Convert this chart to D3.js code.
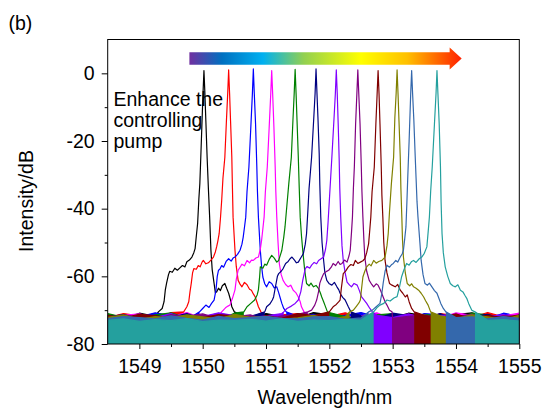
<!doctype html>
<html>
<head>
<meta charset="utf-8">
<script src="https://cdnjs.cloudflare.com/ajax/libs/d3/7.8.5/d3.min.js"></script>
<style>
  body { margin: 0; background: #fff; }
  svg { display: block; }
  text { font-family: Arial, "Liberation Sans", sans-serif; fill: #000; }
  .tick text { font-size: 19.5px; }
  .tick line { stroke: #000; stroke-width: 1; }
  path.trace { fill: none; stroke-width: 1.2; stroke-linejoin: round; }
</style>
</head>
<body>
<div id="chart"></div>
<script>
// ---- data ----
var xTicks = [1549, 1550, 1551, 1552, 1553, 1554, 1555];
var xMinor = [1549.5, 1550.5, 1551.5, 1552.5, 1553.5, 1554.5];
var yTicks = [0, -20, -40, -60, -80];
var yMinor = [-10, -30, -50, -70];

// traces in drawing order (weakest -> strongest controlling pump)
var traceColors = ["#000000", "#ff0000", "#0000ff", "#ff00ff", "#008000", "#000080",
                   "#8000ff", "#800080", "#800000", "#808000", "#3468ac", "#24a09e"];

// noise floor: wavelength grid and top of the floor for each trace (dB)
var floorWl = [1548.5, 1548.75, 1549, 1549.25, 1549.5, 1549.75, 1550, 1550.25, 1550.5,
               1550.75, 1551, 1551.25, 1551.5, 1551.75, 1552, 1552.25, 1552.5, 1552.75,
               1553, 1553.25, 1553.5, 1553.75, 1554, 1554.25, 1554.5, 1554.75, 1555];
var floorBlack   = [-71.6,-72.4,-70.9,-71.8,-72.6,-71.2,-70.8,-72.1,-71.5,-72.8,-71.0,-71.9,-72.3,-70.7,-71.4,-72.5,-71.1,-71.8,-72.2,-70.9,-71.6,-72.7,-71.3,-70.8,-72.0,-71.5,-72.4];
var floorRed     = [-72.2,-71.0,-71.7,-72.8,-70.7,-71.9,-72.4,-71.3,-72.0,-70.9,-72.5,-71.4,-71.0,-72.3,-71.8,-70.8,-72.1,-72.6,-71.2,-71.7,-72.9,-71.0,-71.6,-72.2,-70.7,-72.0,-71.3];
var floorBlue    = [-71.3,-72.7,-72.0,-70.8,-71.6,-72.9,-71.4,-70.9,-72.3,-71.7,-71.1,-72.6,-71.8,-71.2,-72.4,-71.5,-70.7,-72.0,-71.9,-72.7,-71.0,-71.4,-72.1,-71.7,-72.5,-70.9,-71.8];
var floorMagenta = [-72.6,-71.5,-71.1,-72.2,-71.9,-70.7,-72.5,-71.8,-71.2,-72.0,-72.7,-70.9,-71.6,-72.4,-71.0,-72.1,-71.7,-70.8,-72.6,-71.3,-71.9,-72.3,-70.8,-71.5,-72.1,-71.7,-70.9];
var floorGreen   = [-71.0,-72.1,-72.6,-71.4,-70.8,-72.3,-71.7,-72.9,-70.9,-71.5,-72.2,-71.8,-72.7,-71.1,-70.7,-71.9,-72.5,-71.4,-71.0,-72.4,-71.2,-71.8,-72.6,-70.9,-71.4,-72.3,-71.6];
var floorNavy    = [-72.0,-71.3,-72.5,-71.7,-72.1,-71.0,-72.6,-71.4,-72.8,-71.9,-70.8,-72.2,-71.5,-72.9,-72.0,-71.2,-71.7,-72.5,-70.9,-71.6,-72.3,-71.0,-72.8,-71.9,-71.2,-72.6,-72.1];
var floorViolet  = [-71.8,-72.9,-71.4,-72.2,-71.0,-72.7,-71.9,-70.8,-71.6,-72.3,-71.7,-71.0,-72.1,-71.8,-72.6,-71.3,-72.9,-71.5,-72.2,-71.1,-72.7,-71.6,-71.2,-72.4,-71.9,-71.3,-72.7];
var floorPurple  = [-72.4,-71.6,-72.0,-72.9,-71.3,-71.8,-71.1,-72.5,-72.0,-71.4,-72.8,-71.7,-71.2,-72.0,-71.5,-72.7,-71.9,-71.1,-72.4,-71.8,-71.4,-72.6,-71.9,-71.2,-72.8,-71.6,-71.9];
var floorMaroon  = [-71.5,-72.3,-71.2,-71.6,-72.8,-71.9,-72.2,-71.3,-71.7,-72.9,-71.6,-72.4,-71.0,-71.6,-72.2,-71.4,-72.1,-72.8,-71.5,-72.0,-71.5,-72.3,-71.1,-72.7,-71.5,-72.2,-71.4];
var floorOlive   = [-72.1,-71.4,-72.7,-71.9,-72.3,-71.4,-72.0,-72.6,-71.2,-72.1,-71.9,-72.7,-72.3,-71.5,-72.8,-71.9,-71.3,-72.2,-72.7,-71.4,-72.0,-71.7,-72.5,-71.4,-72.0,-72.8,-71.5];
var floorSteel   = [-72.5,-71.9,-72.2,-72.6,-71.7,-72.4,-72.9,-71.8,-72.5,-72.2,-71.8,-72.4,-72.6,-72.0,-71.9,-72.7,-72.3,-71.9,-72.4,-72.6,-71.9,-72.5,-72.2,-72.0,-72.6,-71.9,-72.4];
var floorTeal    = [-73.0,-72.6,-73.3,-72.8,-73.1,-72.5,-73.4,-72.9,-73.0,-72.7,-73.2,-72.6,-73.3,-72.9,-73.1,-72.7,-73.0,-72.8,-73.4,-72.6,-73.1,-72.9,-73.2,-72.7,-73.0,-72.8,-73.2];

// lasing line + sidebands above the floor, [wavelength nm, dB]
var peakBlack = [[1549.30,-70.5],[1549.36,-69.5],[1549.39,-67.5],[1549.41,-64],[1549.43,-62],[1549.46,-59.5],[1549.48,-58.5],[1549.52,-58.8],[1549.56,-57.6],[1549.60,-58.2],[1549.64,-57.5],[1549.68,-56.8],[1549.72,-57.2],[1549.75,-55.7],[1549.79,-55.2],[1549.83,-54.3],[1549.86,-53.0],[1549.88,-51.8],[1549.90,-48],[1549.92,-44.4],[1549.94,-37],[1549.955,-32.6],[1549.97,-24.8],[1549.99,-14],[1550.005,-6],[1550.02,0.8],[1550.035,-6],[1550.05,-14],[1550.07,-24.8],[1550.09,-34],[1550.11,-42.5],[1550.13,-52.3],[1550.15,-58],[1550.18,-62.1],[1550.20,-64.8],[1550.22,-64.6],[1550.25,-63.5],[1550.28,-64.2],[1550.31,-62.8],[1550.35,-62.1],[1550.38,-63.6],[1550.41,-65],[1550.44,-67],[1550.46,-69],[1550.50,-70.5]];
var peakRed = [[1549.70,-70.5],[1549.75,-69],[1549.78,-67.5],[1549.80,-64.5],[1549.82,-62],[1549.84,-59],[1549.86,-57.7],[1549.90,-57.9],[1549.93,-56.8],[1549.96,-57.2],[1549.99,-55.8],[1550.01,-55.3],[1550.05,-56.3],[1550.09,-56],[1550.13,-55.2],[1550.17,-54.3],[1550.20,-52.8],[1550.22,-51.3],[1550.24,-49.5],[1550.26,-47.4],[1550.28,-43],[1550.30,-37.6],[1550.32,-31],[1550.35,-24.8],[1550.375,-14],[1550.395,-6],[1550.41,1.0],[1550.425,-6],[1550.44,-14],[1550.46,-24.8],[1550.47,-34],[1550.48,-42.5],[1550.51,-52.3],[1550.53,-57],[1550.56,-61.2],[1550.59,-62.3],[1550.62,-63.1],[1550.66,-61.8],[1550.70,-62.5],[1550.74,-63.8],[1550.77,-64.1],[1550.80,-65.2],[1550.83,-66.1],[1550.86,-67.8],[1550.88,-69],[1550.92,-70.5]];
var peakBlue = [[1549.95,-70.5],[1550.00,-69.5],[1550.05,-68.5],[1550.10,-69.2],[1550.14,-68],[1550.18,-67],[1550.21,-64],[1550.23,-60],[1550.25,-58.2],[1550.27,-57.9],[1550.30,-56.8],[1550.33,-57.3],[1550.37,-55.6],[1550.41,-54.8],[1550.45,-55.5],[1550.48,-54.6],[1550.51,-54.3],[1550.55,-53.5],[1550.59,-52.3],[1550.62,-50.5],[1550.64,-48.4],[1550.66,-45.5],[1550.68,-42.5],[1550.70,-35],[1550.73,-27.7],[1550.76,-16],[1550.785,-6],[1550.80,1.3],[1550.815,-6],[1550.835,-15],[1550.855,-27.7],[1550.865,-35],[1550.88,-42.5],[1550.91,-52.3],[1550.93,-57],[1550.95,-60.2],[1550.98,-62.2],[1551.01,-63.1],[1551.05,-61.6],[1551.09,-62.1],[1551.13,-63.4],[1551.17,-63.1],[1551.20,-64.8],[1551.22,-66.1],[1551.25,-68],[1551.28,-69.5],[1551.32,-70.5]];
var peakMagenta = [[1550.30,-70.5],[1550.36,-69.3],[1550.40,-68.8],[1550.43,-68.5],[1550.47,-66.5],[1550.51,-64],[1550.53,-61],[1550.56,-58.2],[1550.59,-57.3],[1550.62,-56.4],[1550.66,-56.9],[1550.70,-55.3],[1550.74,-56],[1550.77,-55.2],[1550.80,-55.3],[1550.84,-54.6],[1550.88,-54.3],[1550.91,-52],[1550.93,-49.4],[1550.95,-46],[1550.97,-42.5],[1550.99,-35],[1551.02,-27.7],[1551.05,-16],[1551.075,-6],[1551.09,0.8],[1551.105,-6],[1551.125,-16],[1551.145,-27.7],[1551.155,-35],[1551.17,-42.5],[1551.19,-50],[1551.21,-56.2],[1551.24,-59.5],[1551.27,-61.2],[1551.31,-62.4],[1551.35,-63.1],[1551.39,-62.6],[1551.43,-64.1],[1551.47,-64.8],[1551.51,-66.1],[1551.54,-67.5],[1551.56,-69],[1551.60,-70.5]];
var peakGreen = [[1550.65,-70.5],[1550.70,-69],[1550.76,-68],[1550.82,-67],[1550.86,-65.5],[1550.88,-64],[1550.90,-60],[1550.91,-57.2],[1550.95,-57.6],[1550.98,-56.4],[1551.01,-56.7],[1551.05,-55],[1551.09,-53.8],[1551.13,-54.6],[1551.17,-55.8],[1551.20,-55.3],[1551.23,-53.5],[1551.25,-52.3],[1551.28,-48.5],[1551.30,-45.4],[1551.33,-39],[1551.36,-32.6],[1551.40,-24.8],[1551.425,-14],[1551.445,-6],[1551.46,1.2],[1551.475,-6],[1551.49,-14],[1551.51,-24.8],[1551.525,-34],[1551.54,-42.5],[1551.56,-48],[1551.58,-52.3],[1551.61,-58],[1551.64,-62.1],[1551.68,-62.8],[1551.71,-62],[1551.75,-63.1],[1551.79,-62.7],[1551.83,-63.6],[1551.86,-65],[1551.88,-66.1],[1551.91,-67.5],[1551.93,-68.5],[1551.97,-70.5]];
var peakNavy = [[1550.98,-70.5],[1551.01,-69],[1551.06,-68.2],[1551.10,-67],[1551.12,-66.1],[1551.15,-63],[1551.18,-60],[1551.20,-59.2],[1551.24,-58.5],[1551.27,-57.7],[1551.31,-56.2],[1551.35,-55.6],[1551.38,-54.8],[1551.41,-54.3],[1551.45,-55.2],[1551.48,-56],[1551.51,-55.8],[1551.55,-54.5],[1551.59,-53.3],[1551.62,-50.5],[1551.64,-47.4],[1551.66,-41],[1551.68,-34],[1551.72,-24.8],[1551.755,-13],[1551.775,-6],[1551.79,1.3],[1551.805,-6],[1551.82,-13],[1551.84,-23.8],[1551.85,-33],[1551.865,-42.5],[1551.885,-50],[1551.91,-55.3],[1551.93,-59],[1551.96,-61.2],[1552.00,-62.2],[1552.04,-62.6],[1552.08,-61.8],[1552.12,-63.1],[1552.15,-64],[1552.17,-65],[1552.21,-66.2],[1552.25,-67],[1552.30,-69],[1552.34,-70.5]];
var peakViolet = [[1551.28,-70.5],[1551.33,-69.5],[1551.40,-68.8],[1551.46,-68],[1551.51,-67],[1551.55,-64.5],[1551.58,-61.2],[1551.62,-57.7],[1551.65,-57.1],[1551.69,-57.6],[1551.72,-56.7],[1551.76,-55.9],[1551.80,-56.3],[1551.83,-55.3],[1551.87,-54.8],[1551.91,-54.3],[1551.94,-52],[1551.96,-49.4],[1551.98,-44],[1552.00,-37.6],[1552.04,-24.8],[1552.075,-13],[1552.095,-6],[1552.11,1.0],[1552.125,-6],[1552.14,-15],[1552.155,-25],[1552.165,-34],[1552.18,-42.5],[1552.20,-51],[1552.22,-55.3],[1552.25,-59],[1552.28,-61.7],[1552.32,-62.6],[1552.35,-63.1],[1552.39,-62.1],[1552.44,-62.6],[1552.47,-64],[1552.51,-66.1],[1552.55,-67],[1552.59,-68],[1552.64,-69.5],[1552.68,-70.5]];
var peakPurple = [[1551.66,-70.5],[1551.72,-70],[1551.77,-68.5],[1551.80,-67],[1551.83,-64.5],[1551.85,-62],[1551.88,-60.5],[1551.91,-59.2],[1551.95,-58.6],[1551.99,-58.2],[1552.03,-57.3],[1552.06,-56.2],[1552.10,-56.8],[1552.14,-55.6],[1552.17,-56.5],[1552.20,-56.2],[1552.24,-55.2],[1552.28,-55.8],[1552.31,-54],[1552.33,-52.3],[1552.35,-47],[1552.365,-42.5],[1552.38,-34],[1552.395,-27.7],[1552.415,-15],[1552.435,-6],[1552.45,1.0],[1552.465,-6],[1552.485,-15],[1552.505,-27.7],[1552.515,-35],[1552.53,-42.5],[1552.545,-49],[1552.56,-54.3],[1552.59,-58.5],[1552.63,-61.2],[1552.67,-62.4],[1552.70,-63.1],[1552.74,-62.2],[1552.77,-62.6],[1552.81,-64.2],[1552.85,-66.1],[1552.88,-67.5],[1552.91,-68.5],[1552.95,-70],[1552.99,-70.5]];
var peakMaroon = [[1552.00,-70.5],[1552.06,-69],[1552.11,-68.3],[1552.15,-67.5],[1552.17,-67],[1552.19,-63.5],[1552.22,-59.2],[1552.26,-58.4],[1552.30,-57.2],[1552.34,-56.5],[1552.38,-56.8],[1552.41,-55.3],[1552.45,-56.2],[1552.49,-55.8],[1552.53,-55.4],[1552.56,-54.8],[1552.59,-53],[1552.62,-50.4],[1552.64,-46],[1552.655,-42.5],[1552.675,-35],[1552.71,-27.7],[1552.735,-15],[1552.755,-6],[1552.77,0.8],[1552.785,-6],[1552.80,-15],[1552.82,-27.7],[1552.83,-36],[1552.845,-42.5],[1552.86,-50],[1552.88,-55.3],[1552.91,-59],[1552.95,-62.1],[1552.99,-62.6],[1553.04,-63.1],[1553.08,-62.4],[1553.12,-64.1],[1553.16,-65],[1553.20,-66.1],[1553.23,-65.5],[1553.26,-67.5],[1553.30,-69.5],[1553.34,-70.5]];
var peakOlive = [[1552.32,-70.5],[1552.38,-70],[1552.43,-68.8],[1552.47,-67.8],[1552.49,-67],[1552.51,-63.5],[1552.53,-60.2],[1552.56,-58.5],[1552.59,-57.2],[1552.63,-56.4],[1552.66,-56.9],[1552.70,-55.3],[1552.74,-56.1],[1552.78,-55.6],[1552.83,-55.3],[1552.88,-54.3],[1552.91,-51],[1552.93,-47.4],[1552.95,-41],[1552.98,-32.6],[1553.015,-24.8],[1553.035,-13],[1553.055,-6],[1553.07,1.0],[1553.085,-6],[1553.10,-14],[1553.12,-24.8],[1553.13,-34],[1553.145,-42.5],[1553.155,-49],[1553.17,-54.3],[1553.20,-59],[1553.23,-62.1],[1553.27,-62.8],[1553.30,-62.2],[1553.33,-63.1],[1553.37,-63.5],[1553.41,-64.1],[1553.45,-65],[1553.49,-66.1],[1553.52,-67.2],[1553.56,-68.5],[1553.60,-70.5]];
var peakSteel = [[1552.62,-70.5],[1552.68,-70],[1552.74,-69],[1552.80,-68],[1552.83,-65],[1552.85,-62.1],[1552.88,-58.5],[1552.91,-56.7],[1552.95,-57.3],[1552.98,-56.6],[1553.01,-56.2],[1553.05,-55.3],[1553.08,-55.8],[1553.12,-54.3],[1553.15,-53.4],[1553.17,-52.3],[1553.19,-49],[1553.21,-45.4],[1553.225,-38],[1553.24,-30],[1553.26,-20],[1553.285,-6],[1553.30,0.8],[1553.315,-6],[1553.335,-14],[1553.355,-24],[1553.37,-31],[1553.385,-38],[1553.40,-42.5],[1553.43,-50],[1553.45,-55.3],[1553.48,-59.5],[1553.51,-62.1],[1553.55,-62.6],[1553.58,-62],[1553.62,-63.1],[1553.66,-64.2],[1553.70,-65],[1553.73,-66.5],[1553.76,-68],[1553.80,-69.5],[1553.84,-70.5]];
var peakTeal = [[1552.70,-70.5],[1552.75,-69.3],[1552.80,-68.5],[1552.86,-68],[1552.91,-67],[1552.96,-67.3],[1553.02,-66.4],[1553.07,-66],[1553.11,-63],[1553.14,-60.2],[1553.18,-58],[1553.22,-56.2],[1553.26,-56.7],[1553.30,-55.6],[1553.33,-55.3],[1553.37,-55.9],[1553.42,-54.8],[1553.46,-54.3],[1553.50,-53.2],[1553.54,-51.3],[1553.56,-47],[1553.58,-42.5],[1553.60,-35],[1553.625,-27.7],[1553.66,-15],[1553.685,-6],[1553.70,0.8],[1553.715,-6],[1553.735,-15],[1553.755,-27.7],[1553.765,-38],[1553.78,-47.4],[1553.80,-53],[1553.83,-57.2],[1553.87,-60],[1553.91,-62.1],[1553.95,-62.8],[1553.99,-63.1],[1554.03,-62.5],[1554.07,-64.1],[1554.11,-64.6],[1554.14,-65.6],[1554.17,-66.5],[1554.20,-68],[1554.25,-70],[1554.30,-70.5]];

var floors = [floorBlack, floorRed, floorBlue, floorMagenta, floorGreen, floorNavy,
              floorViolet, floorPurple, floorMaroon, floorOlive, floorSteel, floorTeal];
var peaks = [peakBlack, peakRed, peakBlue, peakMagenta, peakGreen, peakNavy,
             peakViolet, peakPurple, peakMaroon, peakOlive, peakSteel, peakTeal];

// colour bar of the arrow ("enhance the controlling pump")
var arrowStops = [[0, "#7030a0"], [0.12, "#0070c0"], [0.27, "#00b0f0"], [0.42, "#92d050"],
                  [0.63, "#ffff00"], [0.80, "#ffc000"], [1, "#ff2000"]];
var arrowFrom = 1549.79, arrowBody = 1553.90, arrowTip = 1554.09;

// ---- chart ----
var W = 545, H = 410;
var svg = d3.select("#chart").append("svg").attr("width", W).attr("height", H);

var x = d3.scaleLinear().domain([1548.5, 1555]).range([107.7, 519.3]);
var y = d3.scaleLinear().domain([-80, 10]).range([344, 39.5]);

svg.append("defs").append("clipPath").attr("id", "plot")
  .append("rect")
    .attr("x", x.range()[0]).attr("y", y.range()[1])
    .attr("width", x.range()[1] - x.range()[0])
    .attr("height", y.range()[0] - y.range()[1]);

var line = d3.line().x(d => x(d[0])).y(d => y(d[1]));
var floorArea = d3.area()
    .defined(d => d[1] <= -70.4)
    .x(d => x(d[0])).y0(y(-80)).y1(d => y(d[1]));

var gTraces = svg.append("g").attr("clip-path", "url(#plot)");

peaks.forEach(function(pk, i) {
  var lo = pk[0][0], hi = pk[pk.length - 1][0];
  var pts = [];
  floorWl.forEach(function(w, j) { if (w < lo) pts.push([w, floors[i][j]]); });
  pk.forEach(function(p) { pts.push(p); });
  floorWl.forEach(function(w, j) { if (w > hi) pts.push([w, floors[i][j]]); });

  gTraces.append("path")
    .attr("d", floorArea(pts))
    .attr("fill", traceColors[i]);
  gTraces.append("path")
    .attr("class", "trace")
    .attr("d", line(pts))
    .attr("stroke", traceColors[i]);
});

// annotation
var note = svg.append("text").attr("x", 113.5).style("font-size", "19.5px");
["Enhance the", "controlling", "pump"].forEach(function(t, i) {
  note.append("tspan").attr("x", 113.5).attr("y", 106 + i * 21).text(t);
});

// gradient arrow
var grad = svg.select("defs").append("linearGradient")
    .attr("id", "pumpGrad").attr("gradientUnits", "userSpaceOnUse")
    .attr("x1", x(arrowFrom)).attr("x2", x(arrowTip)).attr("y1", 0).attr("y2", 0);
arrowStops.forEach(function(s) {
  grad.append("stop").attr("offset", s[0]).attr("stop-color", s[1]);
});
var ay = 58.5;
svg.append("path")
  .attr("fill", "url(#pumpGrad)")
  .attr("d", "M" + x(arrowFrom) + "," + (ay - 6.3) +
             "H" + x(arrowBody) + "V" + (ay - 11) +
             "L" + x(arrowTip) + "," + ay +
             "L" + x(arrowBody) + "," + (ay + 11) +
             "V" + (ay + 6.3) + "H" + x(arrowFrom) + "Z");

// axes
svg.append("g").attr("transform", "translate(0," + y(-80) + ")")
  .call(d3.axisBottom(x).tickValues(xTicks).tickSize(5).tickPadding(10.5).tickFormat(d => String(d)));
svg.append("g").attr("transform", "translate(0," + y(-80) + ")")
  .call(d3.axisBottom(x).tickValues(xMinor).tickSize(3).tickFormat(""));
svg.append("g").attr("transform", "translate(" + x(1548.5) + ",0)")
  .call(d3.axisLeft(y).tickValues(yTicks).tickSize(6).tickPadding(7).tickFormat(d => String(d)));
svg.append("g").attr("transform", "translate(" + x(1548.5) + ",0)")
  .call(d3.axisLeft(y).tickValues(yMinor).tickSize(3).tickFormat(""));
svg.selectAll(".domain").remove();
svg.selectAll(".tick text").attr("fill", "#000");

svg.append("rect")
  .attr("x", x.range()[0]).attr("y", y.range()[1])
  .attr("width", x.range()[1] - x.range()[0])
  .attr("height", y.range()[0] - y.range()[1])
  .attr("fill", "none").attr("stroke", "#000").attr("stroke-width", 1);

// labels
svg.append("text").attr("x", 325).attr("y", 404).attr("text-anchor", "middle")
  .style("font-size", "19.5px").text("Wavelength/nm");
svg.append("text").attr("transform", "translate(33,201) rotate(-90)")
  .attr("text-anchor", "middle").style("font-size", "19.5px").text("Intensity/dB");
svg.append("text").attr("x", 8.5).attr("y", 30).style("font-size", "19.5px").text("(b)");
</script>
</body>
</html>
